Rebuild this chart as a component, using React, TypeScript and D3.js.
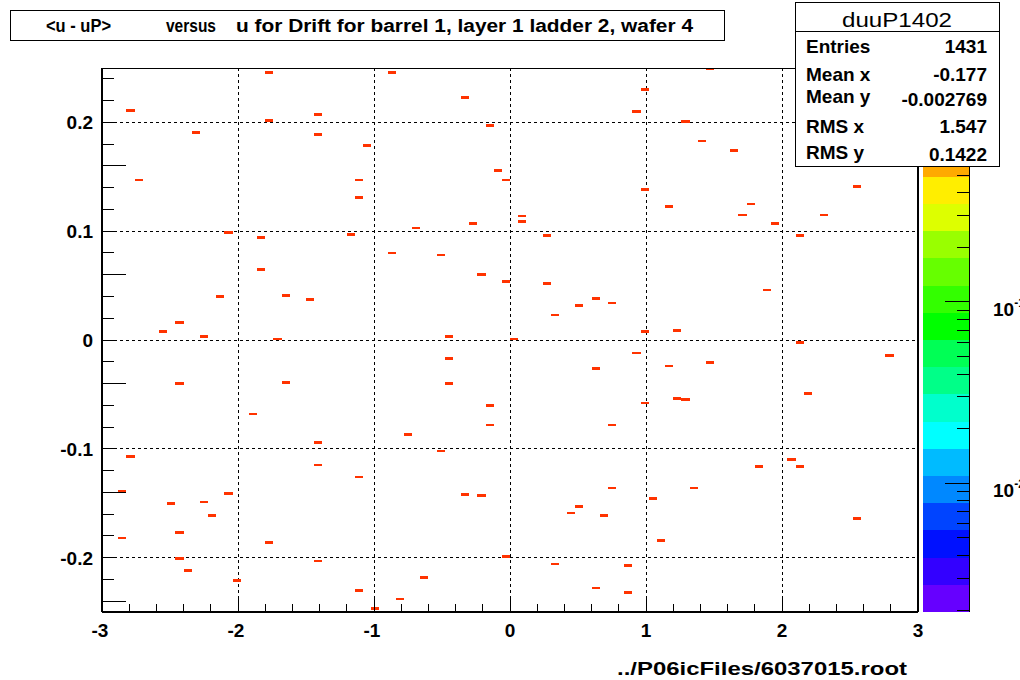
import * as d3 from "d3";

// cell centres (x = u, y = <u - uP>)
const cellX = [
  -1.77, -2.79, -1.77, -1.41, -2.31, -1.41, -1.05, -2.73, -1.11, -1.11,
  -2.07, -1.83, -1.17, -1.83, -2.13, -1.65, -1.47, -2.43, -2.55, -2.25,
  -1.71, -0.87, -0.33, 0.99, 0.93, -0.15, -0.09, -0.03, 0.99, 0.09,
  0.09, -0.69, -0.27, 0.27, -0.87, -0.51, -0.21, -0.03, 0.27, 0.63,
  0.51, 0.75, 0.33, 0.99, -0.45, 0.03, 1.47, 1.29, 1.41, 1.65,
  2.55, 1.17, 1.77, 1.71, 2.31, 1.95, 2.13, 1.89, 1.23, -2.43,
  -1.65, -1.89, -1.41, -2.79, -1.41, -1.11, -2.85, -2.07, -2.49, -2.25,
  -2.19, -2.43, -2.85, -1.77, -2.43, -1.41, -2.37, -2.01, -1.11, -0.99,
  0.93, -0.45, 0.63, -0.45, 0.99, -0.15, -0.15, 0.75, -0.75, -0.51,
  0.75, -0.33, -0.21, 0.51, 0.45, 0.69, -0.03, 0.33, 0.87, -0.63,
  0.63, 0.87, -0.81, 2.13, 2.79, 1.17, 1.47, 1.23, 1.29, 2.19,
  2.07, 2.13, 1.83, 1.35, 1.05, 2.55, 1.11,
];
const cellY = [
  0.246, 0.211, 0.202, 0.207, 0.191, 0.189, 0.179, 0.147, 0.147, 0.131,
  0.099, 0.094, 0.097, 0.065, 0.04, 0.041, 0.037, 0.016, 0.008, 0.003,
  0.001, 0.246, 0.223, 0.23, 0.21, 0.197, 0.156, 0.147, 0.138, 0.114,
  0.109, 0.103, 0.107, 0.096, 0.08, 0.078, 0.06, 0.054, 0.052, 0.038,
  0.032, 0.034, 0.023, 0.008, 0.003, 0.001, 0.249, 0.201, 0.183, 0.174,
  0.141, 0.123, 0.125, 0.115, 0.115, 0.107, 0.096, 0.046, 0.009, -0.04,
  -0.039, -0.068, -0.094, -0.107, -0.115, -0.126, -0.139, -0.141, -0.15, -0.149,
  -0.161, -0.177, -0.182, -0.186, -0.201, -0.203, -0.212, -0.221, -0.23, -0.247,
  -0.012, -0.017, -0.026, -0.04, -0.058, -0.06, -0.078, -0.078, -0.087, -0.102,
  -0.136, -0.142, -0.143, -0.153, -0.159, -0.161, -0.199, -0.206, -0.207, -0.218,
  -0.228, -0.232, -0.238, -0.002, -0.014, -0.024, -0.021, -0.054, -0.055, -0.049,
  -0.11, -0.116, -0.116, -0.136, -0.146, -0.164, -0.184,
];

const xTicks = [-3, -2, -1, 0, 1, 2, 3];
const xTickLabels = ["-3", "-2", "-1", "0", "1", "2", "3"];
const yTicks = [-0.2, -0.1, 0, 0.1, 0.2];
const yTickLabels = ["-0.2", "-0.1", "0", "0.1", "0.2"];
const zDomain = [0.00195, 1.95];
const zMajor = [0.01, 0.1];
const zExp = ["-2", "-1"];

// ROOT rainbow palette, bottom to top
const paletteColors = [
  "#6600ff", "#3300ff", "#0011ff", "#0044ff", "#0088ff", "#00bbff", "#00ffff",
  "#00ffcc", "#00ff88", "#00ff55", "#00ff00", "#33ff00", "#66ff00", "#99ff00",
  "#ddff00", "#ffee00", "#ffaa00", "#ff6600", "#ff3300", "#ff0000",
];

const statLabels = ["Entries", "Mean x", "Mean y", "RMS x", "RMS y"];
const statValues = ["1431", "-0.177", "-0.002769", "1.547", "0.1422"];

const W = 1020, H = 680;
const L = 102, R = 918, T = 68, B = 612;
const FONT = "'Liberation Sans', Arial, Helvetica, sans-serif";

export default function App() {
  const x = d3.scaleLinear().domain([-3, 3]).range([L, R]);
  const y = d3.scaleLinear().domain([-0.25, 0.25]).range([B, T]);
  const z = d3.scaleLog().domain(zDomain).range([B, T]);
  const band = d3.scaleLinear().domain([0, paletteColors.length]).range([B, T]);

  const binW = 0.06, binH = 0.0025;

  const xMinor = d3.range(0, 31).map(i => -3 + i * 0.2);
  const yMinor = d3.range(-12, 13).map(i => i * 0.02);

  // log-scale minor ticks for the palette axis
  const zMinor: number[] = [];
  [0.001, 0.01, 0.1, 1].forEach(dec => {
    for (let k = 1; k < 10; k++) {
      const v = dec * k;
      if (v >= zDomain[0] && v <= zDomain[1]) zMinor.push(v);
    }
  });

  return (
    <svg width={W} height={H} style={{ position: "absolute", left: 0, top: 0, background: "#fff" }}
      fontFamily={FONT}>
      <rect x={0} y={0} width={W} height={H} fill="#fff" />

      {/* grid */}
      <g stroke="#000" strokeWidth={1} strokeDasharray="3,3" shapeRendering="crispEdges">
        {xTicks.slice(1, -1).map(t => (
          <line key={"gx" + t} x1={x(t)} x2={x(t)} y1={T} y2={B} />
        ))}
        {yTicks.map(t => (
          <line key={"gy" + t} x1={L} x2={R} y1={y(t)} y2={y(t)} />
        ))}
      </g>

      {/* cells */}
      <g fill="#ff3300" shapeRendering="crispEdges">
        {cellX.map((cx, i) => (
          <rect key={i}
            x={x(cx - binW / 2)}
            y={y(cellY[i] + binH / 2)}
            width={x(cx + binW / 2) - x(cx - binW / 2)}
            height={y(cellY[i] - binH / 2) - y(cellY[i] + binH / 2)} />
        ))}
      </g>

      {/* frame and axes */}
      <g stroke="#000" fill="none" shapeRendering="crispEdges">
        <line x1={L} x2={R} y1={T} y2={T} strokeWidth={1} />
        <line x1={R} x2={R} y1={T} y2={B} strokeWidth={2} />
        <line x1={L} x2={L} y1={T} y2={B} strokeWidth={2} />
        <line x1={L} x2={R} y1={B} y2={B} strokeWidth={2} />
        {xMinor.map((t, i) => {
          const major = i % 5 === 0;
          return <line key={"xt" + i} x1={x(t)} x2={x(t)} y1={B} y2={B - (major ? 16 : 8)} strokeWidth={1} />;
        })}
        {yMinor.map((t, i) => {
          const major = (i + 12) % 5 === 2;
          return <line key={"yt" + i} x1={L} x2={L + (major ? 24 : 12)} y1={y(t)} y2={y(t)} strokeWidth={1} />;
        })}
      </g>

      <g fontSize={19} fontWeight="bold" fill="#000">
        {xTicks.map((t, i) => (
          <text key={"xl" + t} x={x(t) - (t < 0 ? 2 : 0)} y={637} textAnchor="middle">{xTickLabels[i]}</text>
        ))}
        {yTicks.map((t, i) => (
          <text key={"yl" + t} x={93} y={y(t) + 7} textAnchor="end">{yTickLabels[i]}</text>
        ))}
      </g>

      {/* palette */}
      <g shapeRendering="crispEdges">
        {paletteColors.map((c, i) => (
          <rect key={"p" + i} x={923} width={46} y={band(i + 1)} height={band(i) - band(i + 1)} fill={c} />
        ))}
        <line x1={969} x2={969} y1={T} y2={B} stroke="#000" strokeWidth={1} />
        {zMinor.map((v, i) => {
          const major = zMajor.some(m => Math.abs(m - v) < 1e-9);
          return <line key={"zt" + i} x1={969} x2={969 - (major ? 24 : 12)} y1={z(v)} y2={z(v)} stroke="#000" />;
        })}
      </g>
      <g fontSize={19} fontWeight="bold">
        {zMajor.map((v, i) => (
          <text key={"zl" + i} x={993} y={z(v) + 14}>10<tspan fontSize={12} dy={-9}>{zExp[i]}</tspan></text>
        ))}
      </g>

      {/* title */}
      <rect x={10.5} y={10.5} width={714} height={30} fill="#fff" stroke="#000" />
      <g fontSize={18} fontWeight="bold">
        <text x={46} y={32} textLength={65} lengthAdjust="spacingAndGlyphs">{"<u - uP>"}</text>
        <text x={166} y={32} textLength={50} lengthAdjust="spacingAndGlyphs">versus</text>
        <text x={236} y={32} textLength={457} lengthAdjust="spacingAndGlyphs">u for Drift for barrel 1, layer 1 ladder 2, wafer 4</text>
      </g>

      {/* stats box */}
      <rect x={795.5} y={2.5} width={204} height={164} fill="#fff" stroke="#000" />
      <line x1={795.5} x2={999.5} y1={31.5} y2={31.5} stroke="#000" />
      <text x={897} y={27} fontSize={21} textAnchor="middle" textLength={110} lengthAdjust="spacingAndGlyphs">duuP1402</text>
      <g fontSize={19} fontWeight="bold">
        {statLabels.map((s, i) => (
          <text key={"sl" + i} x={806} y={[53, 81, 103, 133, 159][i]}>{s}</text>
        ))}
        {statValues.map((s, i) => (
          <text key={"sv" + i} x={987} y={[53, 81, 106, 133, 161][i]} textAnchor="end">{s}</text>
        ))}
      </g>

      <text x={617} y={675} fontSize={19} fontWeight="bold" textLength={290} lengthAdjust="spacingAndGlyphs">../P06icFiles/6037015.root</text>
    </svg>
  );
}
